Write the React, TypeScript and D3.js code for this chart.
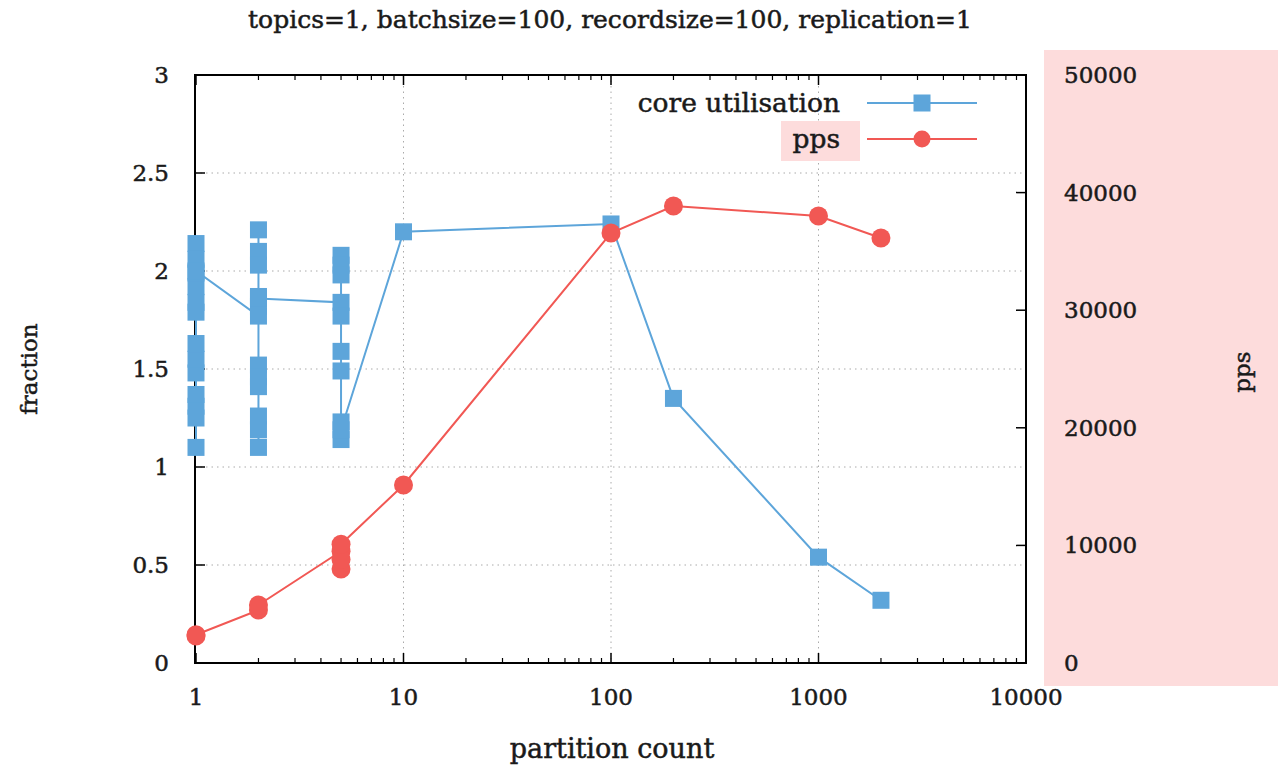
import React from "react";
import * as d3 from "d3";

// ---- data ----
const coreX = [1, 1, 1, 1, 1, 1, 1, 1, 1, 1, 1, 1, 1, 1,
  2, 2, 2, 2, 2, 2, 2, 2, 2, 2, 2, 2, 2,
  5, 5, 5, 5, 5, 5, 5, 5, 5, 5,
  10, 100, 200, 1000, 2000];
const coreY = [1.10, 1.25, 1.31, 1.37, 1.48, 1.55, 1.63, 1.79, 1.84, 1.92, 2.14, 2.06, 1.99, 2.00,
  1.77, 1.52, 1.46, 1.41, 1.26, 1.19, 1.10, 2.21, 2.10, 2.03, 1.87, 1.82, 1.86,
  1.84, 2.08, 2.03, 1.98, 1.77, 1.59, 1.49, 1.14, 1.23, 1.19,
  2.20, 2.24, 1.35, 0.54, 0.32];

const ppsX = [1, 1, 2, 2, 5, 5, 5, 5, 10, 100, 200, 1000, 2000];
const ppsY = [2300, 2400, 4500, 4930, 9500, 8000, 8800, 10100, 15140, 36560, 38860, 38010, 36140];

const xTicks = [1, 10, 100, 1000, 10000];
const yTicks = [0, 0.5, 1, 1.5, 2, 2.5, 3];
const y2Ticks = [0, 10000, 20000, 30000, 40000, 50000];

const title = "topics=1, batchsize=100, recordsize=100, replication=1";
const xLabel = "partition count";
const yLabel = "fraction";
const y2Label = "pps";
const seriesNames = ["core utilisation", "pps"];

const BLUE = "#5da5da";
const RED = "#f15854";
const PINK = "#fddcdc";
const FONT = "'DejaVu Serif', serif";

export default function App() {
  const W = 1278, H = 766;
  const left = 195, right = 1026, top = 75, bottom = 663;
  const x = d3.scaleLog().domain([1, 10000]).range([left + 1, right]);
  const y = d3.scaleLinear().domain([0, 3]).range([bottom, top]);
  const y2 = d3.scaleLinear().domain([0, 50000]).range([bottom, top]);

  const minor: number[] = [];
  for (let d = 1; d < 10000; d *= 10) for (let k = 2; k <= 9; k++) minor.push(d * k);

  const coreLine = d3.line<number>().x((_, i) => x(coreX[i])).y((v) => y(v))(coreY) || "";
  const ppsLine = d3.line<number>().x((_, i) => x(ppsX[i])).y((v) => y2(v))(ppsY) || "";

  const txt = "#1a1a1a";
  const fs = 23;
  const sq = 17;
  const tStroke = { stroke: txt, strokeWidth: 0.5 };

  return (
    <svg width={W} height={H} style={{ position: "absolute", left: 0, top: 0, background: "#fff" }} fontFamily={FONT}>
      <rect x={1044} y={50} width={234} height={636} fill={PINK} />
      <text x={610} y={28} textAnchor="middle" fontSize={25} fill={txt} {...tStroke}>{title}</text>

      {/* grid */}
      {yTicks.slice(1, -1).map((t) => (
        <line key={"gy" + t} x1={left} x2={right} y1={y(t)} y2={y(t)} stroke="#aaa" strokeWidth={1} strokeDasharray="1.5,4" />
      ))}
      {xTicks.slice(1, -1).map((t) => (
        <line key={"gx" + t} x1={x(t)} x2={x(t)} y1={top} y2={bottom} stroke="#aaa" strokeWidth={1} strokeDasharray="1.5,4" />
      ))}

      {/* ticks */}
      {yTicks.map((t) => (
        <line key={"ty" + t} x1={left} x2={left + 10} y1={y(t)} y2={y(t)} stroke="#000" strokeWidth={1.5} />
      ))}
      {y2Ticks.map((t) => (
        <line key={"ty2" + t} x1={right - 10} x2={right} y1={y2(t)} y2={y2(t)} stroke="#000" strokeWidth={1.5} />
      ))}
      {xTicks.map((t) => (
        <g key={"tx" + t}>
          <line x1={x(t)} x2={x(t)} y1={bottom} y2={bottom - 10} stroke="#000" strokeWidth={1.5} />
          <line x1={x(t)} x2={x(t)} y1={top} y2={top + 10} stroke="#000" strokeWidth={1.5} />
        </g>
      ))}
      {minor.map((t) => (
        <g key={"mx" + t}>
          <line x1={x(t)} x2={x(t)} y1={bottom} y2={bottom - 5} stroke="#000" strokeWidth={1.2} />
          <line x1={x(t)} x2={x(t)} y1={top} y2={top + 5} stroke="#000" strokeWidth={1.2} />
        </g>
      ))}

      {/* border */}
      <rect x={left} y={top} width={right - left} height={bottom - top} fill="none" stroke="#000" strokeWidth={2} />

      {/* tick labels */}
      {yTicks.map((t) => (
        <text key={"ly" + t} x={169} y={y(t) + 8} textAnchor="end" fontSize={fs} fill={txt} {...tStroke}>{String(t)}</text>
      ))}
      {y2Ticks.map((t) => (
        <text key={"ly2" + t} x={1064} y={y2(t) + 8} textAnchor="start" fontSize={fs} fill={txt} {...tStroke}>{String(t)}</text>
      ))}
      {xTicks.map((t) => (
        <text key={"lx" + t} x={x(t)} y={705} textAnchor="middle" fontSize={fs} fill={txt} {...tStroke}>{String(t)}</text>
      ))}

      {/* axis labels */}
      <text x={612} y={758} textAnchor="middle" fontSize={27} fill={txt} {...tStroke}>{xLabel}</text>
      <text transform={`translate(37,369) rotate(-90)`} textAnchor="middle" fontSize={fs} fill={txt} {...tStroke}>{yLabel}</text>
      <text transform={`translate(1250,372) rotate(-90)`} textAnchor="middle" fontSize={fs} fill={txt} {...tStroke}>{y2Label}</text>

      {/* core utilisation */}
      <path d={coreLine} fill="none" stroke={BLUE} strokeWidth={2} />
      {coreY.map((v, i) => (
        <rect key={"c" + i} x={x(coreX[i]) - sq / 2} y={y(v) - sq / 2} width={sq} height={sq} fill={BLUE} />
      ))}

      {/* pps */}
      <path d={ppsLine} fill="none" stroke={RED} strokeWidth={2} />
      {ppsY.map((v, i) => (
        <circle key={"p" + i} cx={x(ppsX[i])} cy={y2(v)} r={9.5} fill={RED} />
      ))}

      {/* legend */}
      <text x={840} y={112} textAnchor="end" fontSize={26.5} fill={txt} {...tStroke}>{seriesNames[0]}</text>
      <line x1={867} x2={977} y1={103} y2={103} stroke={BLUE} strokeWidth={2} />
      <rect x={922 - sq / 2} y={103 - sq / 2} width={sq} height={sq} fill={BLUE} />
      <rect x={781} y={121} width={79} height={40} fill={PINK} />
      <text x={840} y={148} textAnchor="end" fontSize={26.5} fill={txt} {...tStroke}>{seriesNames[1]}</text>
      <line x1={867} x2={977} y1={139} y2={139} stroke={RED} strokeWidth={2} />
      <circle cx={922} cy={139} r={8.5} fill={RED} />
    </svg>
  );
}
